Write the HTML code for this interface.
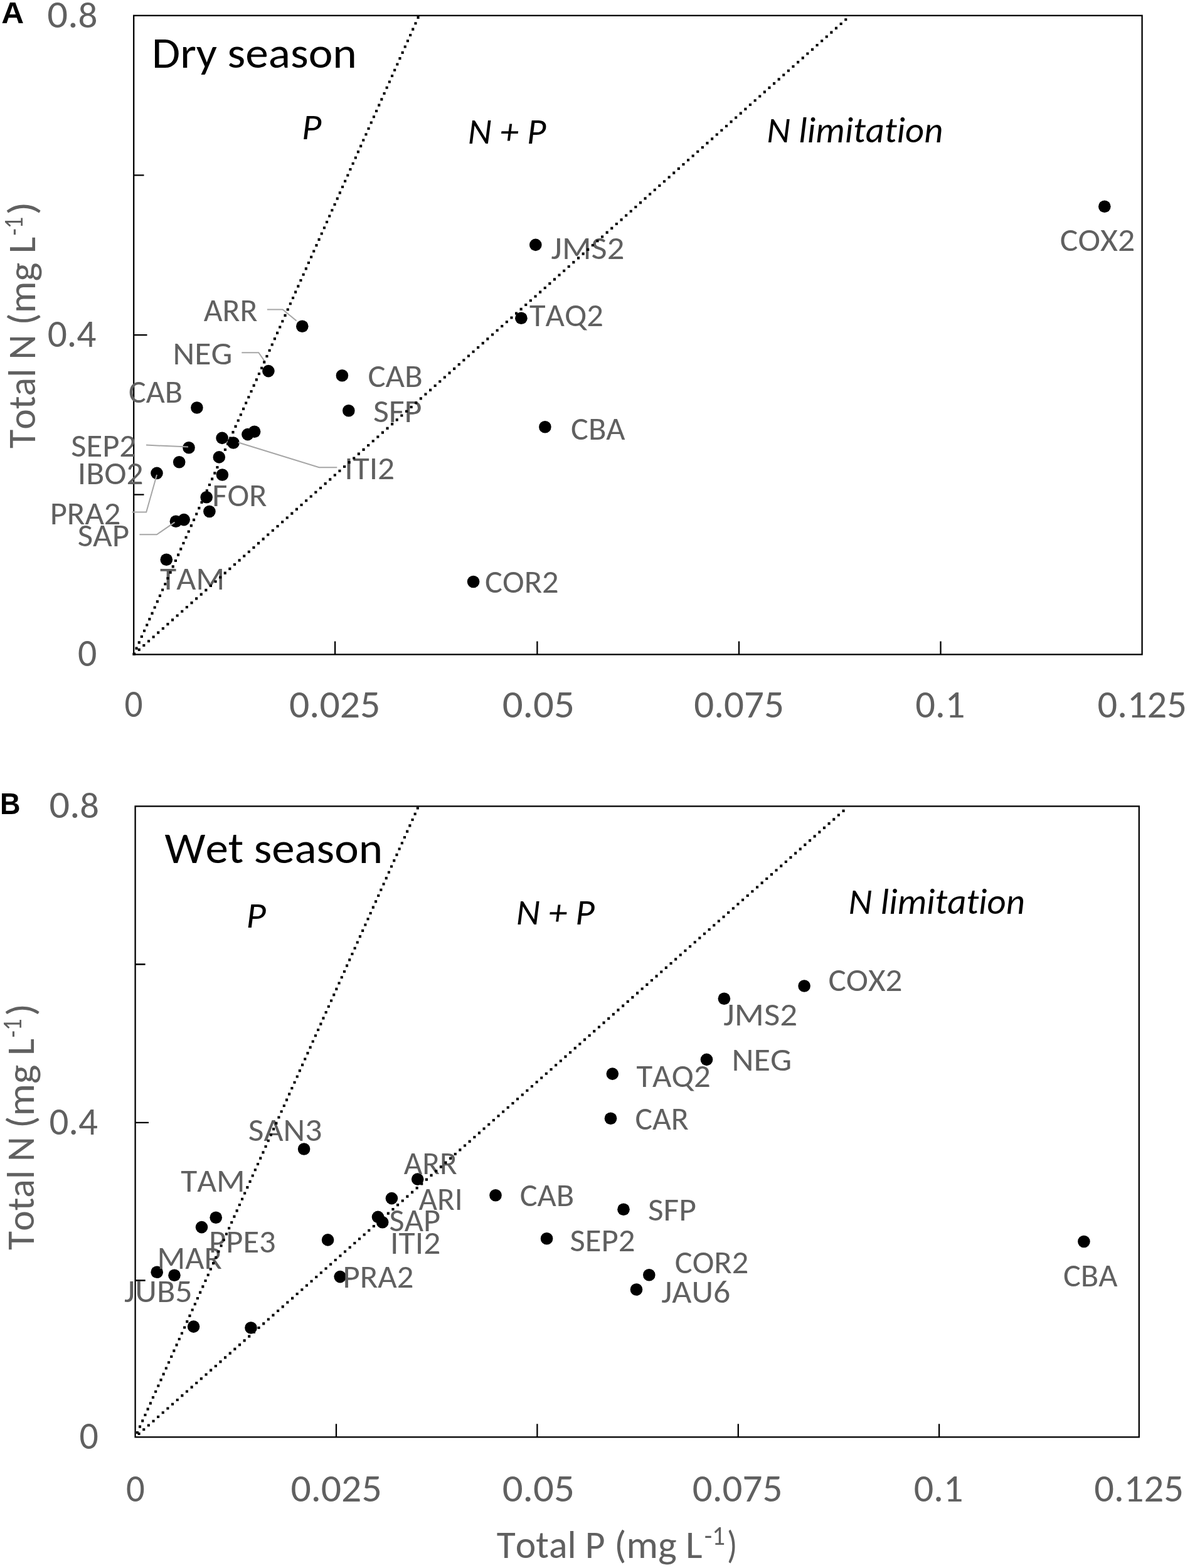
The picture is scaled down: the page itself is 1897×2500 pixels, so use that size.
<!DOCTYPE html>
<html><head><meta charset="utf-8"><title>Total N vs Total P</title><style>html,body{margin:0;padding:0;background:#fff}svg{display:block}text{font-kerning:none;font-variant-ligatures:none;font-feature-settings:"liga" 0,"clig" 0,"kern" 0}</style></head><body>
<svg width="1897" height="2500" viewBox="0 0 1897 2500">
<rect width="1897" height="2500" fill="#fff"/>
<rect x="213.2" y="24.8" width="1607.4" height="1018.7" stroke="#000" stroke-width="2.3" fill="none"/>
<rect x="215.6" y="1285.5" width="1600.2" height="1005.8" stroke="#000" stroke-width="2.3" fill="none"/>
<path d="M213.2 279.4H229.5 M213.2 534.2H234.5 M213.2 788.6H229.5 M534.1 1043.5V1022.5 M856.4 1043.5V1022.5 M1178.0 1043.5V1022.5 M1499.5 1043.5V1022.5 M215.6 1537.5H231.6 M215.6 1789.8H237.0 M215.6 2041.5H231.7 M536.0 2291.3V2270.3 M856.4 2291.3V2270.3 M1176.8 2291.3V2270.3 M1497.1 2291.3V2270.3" stroke="#000" stroke-width="2.3" fill="none"/>
<g fill="#000"><circle cx="1760.8" cy="329.3" r="9.8"/><circle cx="853.8" cy="390.4" r="9.8"/><circle cx="830.9" cy="507.3" r="9.8"/><circle cx="481.8" cy="520.3" r="9.8"/><circle cx="427.9" cy="591.6" r="9.8"/><circle cx="545.4" cy="598.8" r="9.8"/><circle cx="313.9" cy="650.0" r="9.8"/><circle cx="555.8" cy="654.8" r="9.8"/><circle cx="868.9" cy="680.7" r="9.8"/><circle cx="354.1" cy="698.4" r="9.8"/><circle cx="372.0" cy="706.0" r="9.8"/><circle cx="394.9" cy="692.6" r="9.8"/><circle cx="405.6" cy="688.2" r="9.8"/><circle cx="301.0" cy="713.7" r="9.8"/><circle cx="285.7" cy="736.8" r="9.8"/><circle cx="250.0" cy="754.4" r="9.8"/><circle cx="349.3" cy="728.9" r="9.8"/><circle cx="354.4" cy="757.0" r="9.8"/><circle cx="329.2" cy="792.7" r="9.8"/><circle cx="333.9" cy="815.5" r="9.8"/><circle cx="280.4" cy="831.2" r="9.8"/><circle cx="293.2" cy="828.6" r="9.8"/><circle cx="265.3" cy="892.2" r="9.8"/><circle cx="754.6" cy="927.5" r="9.8"/><circle cx="1282.1" cy="1572.0" r="9.8"/><circle cx="1154.4" cy="1592.3" r="9.8"/><circle cx="1126.5" cy="1689.4" r="9.8"/><circle cx="976.3" cy="1712.1" r="9.8"/><circle cx="973.5" cy="1783.3" r="9.8"/><circle cx="484.6" cy="1832.0" r="9.8"/><circle cx="665.7" cy="1880.1" r="9.8"/><circle cx="790.0" cy="1905.7" r="9.8"/><circle cx="624.4" cy="1910.6" r="9.8"/><circle cx="994.0" cy="1928.3" r="9.8"/><circle cx="344.2" cy="1941.2" r="9.8"/><circle cx="602.5" cy="1940.4" r="9.8"/><circle cx="609.7" cy="1948.7" r="9.8"/><circle cx="321.5" cy="1956.6" r="9.8"/><circle cx="522.6" cy="1976.9" r="9.8"/><circle cx="871.6" cy="1974.7" r="9.8"/><circle cx="1727.9" cy="1979.5" r="9.8"/><circle cx="250.2" cy="2028.3" r="9.8"/><circle cx="278.0" cy="2033.3" r="9.8"/><circle cx="1034.8" cy="2032.7" r="9.8"/><circle cx="542.2" cy="2035.6" r="9.8"/><circle cx="1014.5" cy="2056.0" r="9.8"/><circle cx="308.6" cy="2115.1" r="9.8"/><circle cx="400.0" cy="2117.0" r="9.8"/></g>
<polyline points="425.9,493.5 450.7,493.5 472.6,511.5" stroke="#a6a6a6" stroke-width="2" fill="none"/>
<polyline points="385.3,562.2 412.3,562.2 422.0,576.1" stroke="#a6a6a6" stroke-width="2" fill="none"/>
<polyline points="233.0,709.6 300.0,712.6" stroke="#a6a6a6" stroke-width="2" fill="none"/>
<polyline points="210.6,816.5 233.2,816.5 250.0,757.0" stroke="#a6a6a6" stroke-width="2" fill="none"/>
<polyline points="222.4,852.2 250.0,852.2 278.5,832.6" stroke="#a6a6a6" stroke-width="2" fill="none"/>
<polyline points="537.3,745.3 508.7,745.3 380.0,705.5" stroke="#a6a6a6" stroke-width="2" fill="none"/>
<text x="324.8" y="511.9" font-family="Carlito, 'Liberation Sans', sans-serif" font-size="51" fill="#606060" textLength="85.8" lengthAdjust="spacingAndGlyphs">ARR</text>
<text x="275.6" y="581.0" font-family="Carlito, 'Liberation Sans', sans-serif" font-size="51" fill="#606060" textLength="94.9" lengthAdjust="spacingAndGlyphs">NEG</text>
<text x="586.4" y="616.6" font-family="Carlito, 'Liberation Sans', sans-serif" font-size="51" fill="#606060" textLength="87.4" lengthAdjust="spacingAndGlyphs">CAB</text>
<text x="594.9" y="673.2" font-family="Carlito, 'Liberation Sans', sans-serif" font-size="51" fill="#606060" textLength="77.7" lengthAdjust="spacingAndGlyphs">SFP</text>
<text x="910.1" y="700.6" font-family="Carlito, 'Liberation Sans', sans-serif" font-size="51" fill="#606060" textLength="86.5" lengthAdjust="spacingAndGlyphs">CBA</text>
<text x="205.0" y="641.7" font-family="Carlito, 'Liberation Sans', sans-serif" font-size="51" fill="#606060" textLength="86.0" lengthAdjust="spacingAndGlyphs">CAB</text>
<text x="113.2" y="728.3" font-family="Carlito, 'Liberation Sans', sans-serif" font-size="51" fill="#606060" textLength="103.9" lengthAdjust="spacingAndGlyphs">SEP2</text>
<text x="123.8" y="771.6" font-family="Carlito, 'Liberation Sans', sans-serif" font-size="51" fill="#606060" textLength="104.8" lengthAdjust="spacingAndGlyphs">IBO2</text>
<text x="79.7" y="835.5" font-family="Carlito, 'Liberation Sans', sans-serif" font-size="51" fill="#606060" textLength="112.8" lengthAdjust="spacingAndGlyphs">PRA2</text>
<text x="123.7" y="870.9" font-family="Carlito, 'Liberation Sans', sans-serif" font-size="51" fill="#606060" textLength="82.4" lengthAdjust="spacingAndGlyphs">SAP</text>
<text x="338.3" y="807.4" font-family="Carlito, 'Liberation Sans', sans-serif" font-size="51" fill="#606060" textLength="87.3" lengthAdjust="spacingAndGlyphs">FOR</text>
<text x="549.2" y="764.4" font-family="Carlito, 'Liberation Sans', sans-serif" font-size="51" fill="#606060" textLength="80.0" lengthAdjust="spacingAndGlyphs">ITI2</text>
<text x="255.0" y="940.1" font-family="Carlito, 'Liberation Sans', sans-serif" font-size="51" fill="#606060" textLength="103.3" lengthAdjust="spacingAndGlyphs">TAM</text>
<text x="773.0" y="945.1" font-family="Carlito, 'Liberation Sans', sans-serif" font-size="51" fill="#606060" textLength="117.7" lengthAdjust="spacingAndGlyphs">COR2</text>
<text x="878.5" y="412.7" font-family="Carlito, 'Liberation Sans', sans-serif" font-size="51" fill="#606060" textLength="116.8" lengthAdjust="spacingAndGlyphs">JMS2</text>
<text x="843.9" y="519.8" font-family="Carlito, 'Liberation Sans', sans-serif" font-size="51" fill="#606060" textLength="118.0" lengthAdjust="spacingAndGlyphs">TAQ2</text>
<text x="1689.8" y="400.1" font-family="Carlito, 'Liberation Sans', sans-serif" font-size="51" fill="#606060" textLength="119.4" lengthAdjust="spacingAndGlyphs">COX2</text>
<text x="395.8" y="1819.3" font-family="Carlito, 'Liberation Sans', sans-serif" font-size="51" fill="#606060" textLength="117.7" lengthAdjust="spacingAndGlyphs">SAN3</text>
<text x="288.2" y="1900.4" font-family="Carlito, 'Liberation Sans', sans-serif" font-size="51" fill="#606060" textLength="102.5" lengthAdjust="spacingAndGlyphs">TAM</text>
<text x="333.1" y="1996.6" font-family="Carlito, 'Liberation Sans', sans-serif" font-size="51" fill="#606060" textLength="106.6" lengthAdjust="spacingAndGlyphs">PPE3</text>
<text x="250.6" y="2022.7" font-family="Carlito, 'Liberation Sans', sans-serif" font-size="51" fill="#606060" textLength="103.4" lengthAdjust="spacingAndGlyphs">MAR</text>
<text x="198.1" y="2075.8" font-family="Carlito, 'Liberation Sans', sans-serif" font-size="51" fill="#606060" textLength="108.6" lengthAdjust="spacingAndGlyphs">JUB5</text>
<text x="546.6" y="2052.8" font-family="Carlito, 'Liberation Sans', sans-serif" font-size="51" fill="#606060" textLength="112.9" lengthAdjust="spacingAndGlyphs">PRA2</text>
<text x="643.7" y="1872.0" font-family="Carlito, 'Liberation Sans', sans-serif" font-size="51" fill="#606060" textLength="84.9" lengthAdjust="spacingAndGlyphs">ARR</text>
<text x="667.6" y="1928.5" font-family="Carlito, 'Liberation Sans', sans-serif" font-size="51" fill="#606060" textLength="70.1" lengthAdjust="spacingAndGlyphs">ARI</text>
<text x="620.6" y="1963.0" font-family="Carlito, 'Liberation Sans', sans-serif" font-size="51" fill="#606060" textLength="81.5" lengthAdjust="spacingAndGlyphs">SAP</text>
<text x="622.1" y="1999.3" font-family="Carlito, 'Liberation Sans', sans-serif" font-size="51" fill="#606060" textLength="80.2" lengthAdjust="spacingAndGlyphs">ITI2</text>
<text x="828.7" y="1923.4" font-family="Carlito, 'Liberation Sans', sans-serif" font-size="51" fill="#606060" textLength="86.6" lengthAdjust="spacingAndGlyphs">CAB</text>
<text x="1032.9" y="1946.4" font-family="Carlito, 'Liberation Sans', sans-serif" font-size="51" fill="#606060" textLength="77.0" lengthAdjust="spacingAndGlyphs">SFP</text>
<text x="908.4" y="1994.7" font-family="Carlito, 'Liberation Sans', sans-serif" font-size="51" fill="#606060" textLength="104.0" lengthAdjust="spacingAndGlyphs">SEP2</text>
<text x="1075.8" y="2030.2" font-family="Carlito, 'Liberation Sans', sans-serif" font-size="51" fill="#606060" textLength="117.5" lengthAdjust="spacingAndGlyphs">COR2</text>
<text x="1054.2" y="2076.5" font-family="Carlito, 'Liberation Sans', sans-serif" font-size="51" fill="#606060" textLength="110.2" lengthAdjust="spacingAndGlyphs">JAU6</text>
<text x="1014.4" y="1732.8" font-family="Carlito, 'Liberation Sans', sans-serif" font-size="51" fill="#606060" textLength="118.4" lengthAdjust="spacingAndGlyphs">TAQ2</text>
<text x="1166.6" y="1707.1" font-family="Carlito, 'Liberation Sans', sans-serif" font-size="51" fill="#606060" textLength="95.7" lengthAdjust="spacingAndGlyphs">NEG</text>
<text x="1012.4" y="1801.0" font-family="Carlito, 'Liberation Sans', sans-serif" font-size="51" fill="#606060" textLength="85.4" lengthAdjust="spacingAndGlyphs">CAR</text>
<text x="1153.3" y="1635.2" font-family="Carlito, 'Liberation Sans', sans-serif" font-size="51" fill="#606060" textLength="117.9" lengthAdjust="spacingAndGlyphs">JMS2</text>
<text x="1320.5" y="1579.5" font-family="Carlito, 'Liberation Sans', sans-serif" font-size="51" fill="#606060" textLength="118.0" lengthAdjust="spacingAndGlyphs">COX2</text>
<text x="1695.0" y="2050.5" font-family="Carlito, 'Liberation Sans', sans-serif" font-size="51" fill="#606060" textLength="86.5" lengthAdjust="spacingAndGlyphs">CBA</text>
<text x="242.0" y="107.5" font-family="Carlito, 'Liberation Sans', sans-serif" font-size="70" fill="#000" textLength="326.9" lengthAdjust="spacingAndGlyphs">Dry season</text>
<text x="481.0" y="221.8" font-family="Carlito, 'Liberation Sans', sans-serif" font-size="58" font-style="italic" fill="#000" textLength="31.4" lengthAdjust="spacingAndGlyphs">P</text>
<text x="745.8" y="229.3" font-family="Carlito, 'Liberation Sans', sans-serif" font-size="58" font-style="italic" fill="#000" textLength="124.7" lengthAdjust="spacingAndGlyphs">N + P</text>
<text x="1222.3" y="226.9" font-family="Carlito, 'Liberation Sans', sans-serif" font-size="58" font-style="italic" fill="#000" textLength="281.0" lengthAdjust="spacingAndGlyphs">N limitation</text>
<text x="262.4" y="1375.6" font-family="Carlito, 'Liberation Sans', sans-serif" font-size="70" fill="#000" textLength="347.7" lengthAdjust="spacingAndGlyphs">Wet season</text>
<text x="392.5" y="1478.9" font-family="Carlito, 'Liberation Sans', sans-serif" font-size="58" font-style="italic" fill="#000" textLength="31.4" lengthAdjust="spacingAndGlyphs">P</text>
<text x="822.8" y="1473.8" font-family="Carlito, 'Liberation Sans', sans-serif" font-size="58" font-style="italic" fill="#000" textLength="125.2" lengthAdjust="spacingAndGlyphs">N + P</text>
<text x="1352.6" y="1457.0" font-family="Carlito, 'Liberation Sans', sans-serif" font-size="58" font-style="italic" fill="#000" textLength="281.3" lengthAdjust="spacingAndGlyphs">N limitation</text>
<text x="75.3" y="43.5" font-family="Carlito, 'Liberation Sans', sans-serif" font-size="62" fill="#606060" textLength="80.2" lengthAdjust="spacingAndGlyphs">0.<tspan font-size="58.5">8</tspan></text>
<text x="75.7" y="552.9" font-family="Carlito, 'Liberation Sans', sans-serif" font-size="62" fill="#606060" textLength="77.8" lengthAdjust="spacingAndGlyphs">0.4</text>
<text x="124.0" y="1062.1" font-family="Carlito, 'Liberation Sans', sans-serif" font-size="62" fill="#606060" textLength="30.4" lengthAdjust="spacingAndGlyphs">0</text>
<text x="78.6" y="1304.2" font-family="Carlito, 'Liberation Sans', sans-serif" font-size="62" fill="#606060" textLength="79.5" lengthAdjust="spacingAndGlyphs">0.<tspan font-size="58.5">8</tspan></text>
<text x="78.6" y="1808.9" font-family="Carlito, 'Liberation Sans', sans-serif" font-size="62" fill="#606060" textLength="77.3" lengthAdjust="spacingAndGlyphs">0.4</text>
<text x="126.5" y="2310.0" font-family="Carlito, 'Liberation Sans', sans-serif" font-size="62" fill="#606060" textLength="30.4" lengthAdjust="spacingAndGlyphs">0</text>
<text x="198.6" y="1143.3" font-family="Carlito, 'Liberation Sans', sans-serif" font-size="62" fill="#606060" textLength="29.1" lengthAdjust="spacingAndGlyphs">0</text>
<text x="461.0" y="1143.6" font-family="Carlito, 'Liberation Sans', sans-serif" font-size="62" fill="#606060" textLength="145.3" lengthAdjust="spacingAndGlyphs">0.025</text>
<text x="800.7" y="1143.6" font-family="Carlito, 'Liberation Sans', sans-serif" font-size="62" fill="#606060" textLength="115.2" lengthAdjust="spacingAndGlyphs">0.05</text>
<text x="1106.2" y="1143.6" font-family="Carlito, 'Liberation Sans', sans-serif" font-size="62" fill="#606060" textLength="143.7" lengthAdjust="spacingAndGlyphs">0.075</text>
<text x="1459.2" y="1143.6" font-family="Carlito, 'Liberation Sans', sans-serif" font-size="62" fill="#606060" textLength="79.2" lengthAdjust="spacingAndGlyphs">0.1</text>
<text x="1749.5" y="1144.0" font-family="Carlito, 'Liberation Sans', sans-serif" font-size="62" fill="#606060" textLength="142.3" lengthAdjust="spacingAndGlyphs">0.125</text>
<text x="200.9" y="2393.8" font-family="Carlito, 'Liberation Sans', sans-serif" font-size="62" fill="#606060" textLength="29.8" lengthAdjust="spacingAndGlyphs">0</text>
<text x="463.4" y="2393.8" font-family="Carlito, 'Liberation Sans', sans-serif" font-size="62" fill="#606060" textLength="145.3" lengthAdjust="spacingAndGlyphs">0.025</text>
<text x="800.7" y="2393.8" font-family="Carlito, 'Liberation Sans', sans-serif" font-size="62" fill="#606060" textLength="115.2" lengthAdjust="spacingAndGlyphs">0.05</text>
<text x="1103.7" y="2393.8" font-family="Carlito, 'Liberation Sans', sans-serif" font-size="62" fill="#606060" textLength="143.7" lengthAdjust="spacingAndGlyphs">0.075</text>
<text x="1456.8" y="2394.3" font-family="Carlito, 'Liberation Sans', sans-serif" font-size="62" fill="#606060" textLength="78.6" lengthAdjust="spacingAndGlyphs">0.1</text>
<text x="1744.3" y="2394.3" font-family="Carlito, 'Liberation Sans', sans-serif" font-size="62" fill="#606060" textLength="142.6" lengthAdjust="spacingAndGlyphs">0.125</text>
<text x="2.3" y="36.7" font-family="'Liberation Sans', Arial, sans-serif" font-size="48" font-weight="700" fill="#000" textLength="35.9" lengthAdjust="spacingAndGlyphs">A</text>
<text x="-0.1" y="1297.9" font-family="'Liberation Sans', Arial, sans-serif" font-size="48" font-weight="700" fill="#000" textLength="32.5" lengthAdjust="spacingAndGlyphs">B</text>
<text x="791.8" y="2483.9" font-family="Carlito, 'Liberation Sans', sans-serif" font-size="62" fill="#606060" textLength="172.7" lengthAdjust="spacingAndGlyphs">Total P</text>
<text x="979.3" y="2483.9" font-family="Carlito, 'Liberation Sans', sans-serif" font-size="62" fill="#606060" textLength="140.3" lengthAdjust="spacingAndGlyphs">(mg L</text>
<text x="1122.8" y="2462.9" font-family="Carlito, 'Liberation Sans', sans-serif" font-size="42.5" fill="#606060" textLength="33.2" lengthAdjust="spacingAndGlyphs">-1</text>
<text x="1159.0" y="2483.9" font-family="Carlito, 'Liberation Sans', sans-serif" font-size="62" fill="#606060" textLength="16.4" lengthAdjust="spacingAndGlyphs">)</text>
<text transform="translate(56.4 714.9) rotate(-90)" font-family="Carlito, 'Liberation Sans', sans-serif" font-size="62" fill="#606060" textLength="181.2" lengthAdjust="spacingAndGlyphs">Total N</text>
<text transform="translate(56.4 518.5) rotate(-90)" font-family="Carlito, 'Liberation Sans', sans-serif" font-size="62" fill="#606060" textLength="140.8" lengthAdjust="spacingAndGlyphs">(mg L</text>
<text transform="translate(36.2 375.6) rotate(-90)" font-family="Carlito, 'Liberation Sans', sans-serif" font-size="42.5" fill="#606060" textLength="29.8" lengthAdjust="spacingAndGlyphs">-1</text>
<text transform="translate(56.4 342.8) rotate(-90)" font-family="Carlito, 'Liberation Sans', sans-serif" font-size="62" fill="#606060" textLength="21.5" lengthAdjust="spacingAndGlyphs">)</text>
<text transform="translate(53.9 1992.9) rotate(-90)" font-family="Carlito, 'Liberation Sans', sans-serif" font-size="62" fill="#606060" textLength="180.7" lengthAdjust="spacingAndGlyphs">Total N</text>
<text transform="translate(53.9 1799.0) rotate(-90)" font-family="Carlito, 'Liberation Sans', sans-serif" font-size="62" fill="#606060" textLength="143.1" lengthAdjust="spacingAndGlyphs">(mg L</text>
<text transform="translate(33.9 1654.2) rotate(-90)" font-family="Carlito, 'Liberation Sans', sans-serif" font-size="42.5" fill="#606060" textLength="29.8" lengthAdjust="spacingAndGlyphs">-1</text>
<text transform="translate(53.9 1619.9) rotate(-90)" font-family="Carlito, 'Liberation Sans', sans-serif" font-size="62" fill="#606060" textLength="20.2" lengthAdjust="spacingAndGlyphs">)</text>
<path d="M211.4 1040.9h4.1v4.1h-4.1zM215.5 1031.6h4.1v4.1h-4.1zM219.7 1022.3h4.1v4.1h-4.1zM223.8 1013.0h4.1v4.1h-4.1zM228.0 1003.7h4.1v4.1h-4.1zM232.2 994.4h4.1v4.1h-4.1zM236.3 985.1h4.1v4.1h-4.1zM240.5 975.8h4.1v4.1h-4.1zM244.6 966.5h4.1v4.1h-4.1zM248.8 957.1h4.1v4.1h-4.1zM252.9 947.8h4.1v4.1h-4.1zM257.1 938.5h4.1v4.1h-4.1zM261.3 929.2h4.1v4.1h-4.1zM265.4 919.9h4.1v4.1h-4.1zM269.6 910.6h4.1v4.1h-4.1zM273.7 901.3h4.1v4.1h-4.1zM277.9 892.0h4.1v4.1h-4.1zM282.1 882.6h4.1v4.1h-4.1zM286.2 873.3h4.1v4.1h-4.1zM290.4 864.0h4.1v4.1h-4.1zM294.5 854.7h4.1v4.1h-4.1zM298.7 845.4h4.1v4.1h-4.1zM302.8 836.1h4.1v4.1h-4.1zM307.0 826.8h4.1v4.1h-4.1zM311.2 817.5h4.1v4.1h-4.1zM315.3 808.1h4.1v4.1h-4.1zM319.5 798.8h4.1v4.1h-4.1zM323.6 789.5h4.1v4.1h-4.1zM327.8 780.2h4.1v4.1h-4.1zM331.9 770.9h4.1v4.1h-4.1zM336.1 761.6h4.1v4.1h-4.1zM340.3 752.3h4.1v4.1h-4.1zM344.4 743.0h4.1v4.1h-4.1zM348.6 733.6h4.1v4.1h-4.1zM352.7 724.3h4.1v4.1h-4.1zM356.9 715.0h4.1v4.1h-4.1zM361.0 705.7h4.1v4.1h-4.1zM365.2 696.4h4.1v4.1h-4.1zM369.4 687.1h4.1v4.1h-4.1zM373.5 677.8h4.1v4.1h-4.1zM377.7 668.5h4.1v4.1h-4.1zM381.8 659.2h4.1v4.1h-4.1zM386.0 649.8h4.1v4.1h-4.1zM390.1 640.5h4.1v4.1h-4.1zM394.3 631.2h4.1v4.1h-4.1zM398.5 621.9h4.1v4.1h-4.1zM402.6 612.6h4.1v4.1h-4.1zM406.8 603.3h4.1v4.1h-4.1zM410.9 594.0h4.1v4.1h-4.1zM415.1 584.7h4.1v4.1h-4.1zM419.2 575.3h4.1v4.1h-4.1zM423.4 566.0h4.1v4.1h-4.1zM427.6 556.7h4.1v4.1h-4.1zM431.7 547.4h4.1v4.1h-4.1zM435.9 538.1h4.1v4.1h-4.1zM440.0 528.8h4.1v4.1h-4.1zM444.2 519.5h4.1v4.1h-4.1zM448.3 510.2h4.1v4.1h-4.1zM452.5 500.8h4.1v4.1h-4.1zM456.7 491.5h4.1v4.1h-4.1zM460.8 482.2h4.1v4.1h-4.1zM465.0 472.9h4.1v4.1h-4.1zM469.1 463.6h4.1v4.1h-4.1zM473.3 454.3h4.1v4.1h-4.1zM477.4 445.0h4.1v4.1h-4.1zM481.6 435.7h4.1v4.1h-4.1zM485.8 426.3h4.1v4.1h-4.1zM489.9 417.0h4.1v4.1h-4.1zM494.1 407.7h4.1v4.1h-4.1zM498.2 398.4h4.1v4.1h-4.1zM502.4 389.1h4.1v4.1h-4.1zM506.5 379.8h4.1v4.1h-4.1zM510.7 370.5h4.1v4.1h-4.1zM514.9 361.2h4.1v4.1h-4.1zM519.0 351.9h4.1v4.1h-4.1zM523.2 342.5h4.1v4.1h-4.1zM527.3 333.2h4.1v4.1h-4.1zM531.5 323.9h4.1v4.1h-4.1zM535.7 314.6h4.1v4.1h-4.1zM539.8 305.3h4.1v4.1h-4.1zM544.0 296.0h4.1v4.1h-4.1zM548.1 286.7h4.1v4.1h-4.1zM552.3 277.4h4.1v4.1h-4.1zM556.4 268.0h4.1v4.1h-4.1zM560.6 258.7h4.1v4.1h-4.1zM564.8 249.4h4.1v4.1h-4.1zM568.9 240.1h4.1v4.1h-4.1zM573.1 230.8h4.1v4.1h-4.1zM577.2 221.5h4.1v4.1h-4.1zM581.4 212.2h4.1v4.1h-4.1zM585.5 202.9h4.1v4.1h-4.1zM589.7 193.5h4.1v4.1h-4.1zM593.9 184.2h4.1v4.1h-4.1zM598.0 174.9h4.1v4.1h-4.1zM602.2 165.6h4.1v4.1h-4.1zM606.3 156.3h4.1v4.1h-4.1zM610.5 147.0h4.1v4.1h-4.1zM614.6 137.7h4.1v4.1h-4.1zM618.8 128.4h4.1v4.1h-4.1zM623.0 119.0h4.1v4.1h-4.1zM627.1 109.7h4.1v4.1h-4.1zM631.3 100.4h4.1v4.1h-4.1zM635.4 91.1h4.1v4.1h-4.1zM639.6 81.8h4.1v4.1h-4.1zM643.7 72.5h4.1v4.1h-4.1zM647.9 63.2h4.1v4.1h-4.1zM652.1 53.9h4.1v4.1h-4.1zM656.2 44.6h4.1v4.1h-4.1zM660.4 35.2h4.1v4.1h-4.1zM664.5 25.9h4.1v4.1h-4.1zM212.1 1040.6h4.1v4.1h-4.1zM219.7 1033.8h4.1v4.1h-4.1zM227.3 1027.0h4.1v4.1h-4.1zM235.0 1020.2h4.1v4.1h-4.1zM242.6 1013.4h4.1v4.1h-4.1zM250.2 1006.6h4.1v4.1h-4.1zM257.8 999.9h4.1v4.1h-4.1zM265.4 993.1h4.1v4.1h-4.1zM273.0 986.3h4.1v4.1h-4.1zM280.6 979.5h4.1v4.1h-4.1zM288.2 972.7h4.1v4.1h-4.1zM295.8 965.9h4.1v4.1h-4.1zM303.5 959.1h4.1v4.1h-4.1zM311.1 952.3h4.1v4.1h-4.1zM318.7 945.6h4.1v4.1h-4.1zM326.3 938.8h4.1v4.1h-4.1zM333.9 932.0h4.1v4.1h-4.1zM341.5 925.2h4.1v4.1h-4.1zM349.1 918.4h4.1v4.1h-4.1zM356.7 911.6h4.1v4.1h-4.1zM364.3 904.8h4.1v4.1h-4.1zM372.0 898.0h4.1v4.1h-4.1zM379.6 891.3h4.1v4.1h-4.1zM387.2 884.5h4.1v4.1h-4.1zM394.8 877.7h4.1v4.1h-4.1zM402.4 870.9h4.1v4.1h-4.1zM410.0 864.1h4.1v4.1h-4.1zM417.6 857.3h4.1v4.1h-4.1zM425.2 850.5h4.1v4.1h-4.1zM432.8 843.7h4.1v4.1h-4.1zM440.5 837.0h4.1v4.1h-4.1zM448.1 830.2h4.1v4.1h-4.1zM455.7 823.4h4.1v4.1h-4.1zM463.3 816.6h4.1v4.1h-4.1zM470.9 809.8h4.1v4.1h-4.1zM478.5 803.0h4.1v4.1h-4.1zM486.1 796.2h4.1v4.1h-4.1zM493.7 789.4h4.1v4.1h-4.1zM501.3 782.7h4.1v4.1h-4.1zM509.0 775.9h4.1v4.1h-4.1zM516.6 769.1h4.1v4.1h-4.1zM524.2 762.3h4.1v4.1h-4.1zM531.8 755.5h4.1v4.1h-4.1zM539.4 748.7h4.1v4.1h-4.1zM547.0 741.9h4.1v4.1h-4.1zM554.6 735.1h4.1v4.1h-4.1zM562.2 728.4h4.1v4.1h-4.1zM569.8 721.6h4.1v4.1h-4.1zM577.5 714.8h4.1v4.1h-4.1zM585.1 708.0h4.1v4.1h-4.1zM592.7 701.2h4.1v4.1h-4.1zM600.3 694.4h4.1v4.1h-4.1zM607.9 687.6h4.1v4.1h-4.1zM615.5 680.8h4.1v4.1h-4.1zM623.1 674.1h4.1v4.1h-4.1zM630.7 667.3h4.1v4.1h-4.1zM638.3 660.5h4.1v4.1h-4.1zM646.0 653.7h4.1v4.1h-4.1zM653.6 646.9h4.1v4.1h-4.1zM661.2 640.1h4.1v4.1h-4.1zM668.8 633.3h4.1v4.1h-4.1zM676.4 626.5h4.1v4.1h-4.1zM684.0 619.8h4.1v4.1h-4.1zM691.6 613.0h4.1v4.1h-4.1zM699.2 606.2h4.1v4.1h-4.1zM706.8 599.4h4.1v4.1h-4.1zM714.5 592.6h4.1v4.1h-4.1zM722.1 585.8h4.1v4.1h-4.1zM729.7 579.0h4.1v4.1h-4.1zM737.3 572.2h4.1v4.1h-4.1zM744.9 565.5h4.1v4.1h-4.1zM752.5 558.7h4.1v4.1h-4.1zM760.1 551.9h4.1v4.1h-4.1zM767.7 545.1h4.1v4.1h-4.1zM775.3 538.3h4.1v4.1h-4.1zM783.0 531.5h4.1v4.1h-4.1zM790.6 524.7h4.1v4.1h-4.1zM798.2 517.9h4.1v4.1h-4.1zM805.8 511.2h4.1v4.1h-4.1zM813.4 504.4h4.1v4.1h-4.1zM821.0 497.6h4.1v4.1h-4.1zM828.6 490.8h4.1v4.1h-4.1zM836.2 484.0h4.1v4.1h-4.1zM843.8 477.2h4.1v4.1h-4.1zM851.5 470.4h4.1v4.1h-4.1zM859.1 463.6h4.1v4.1h-4.1zM866.7 456.9h4.1v4.1h-4.1zM874.3 450.1h4.1v4.1h-4.1zM881.9 443.3h4.1v4.1h-4.1zM889.5 436.5h4.1v4.1h-4.1zM897.1 429.7h4.1v4.1h-4.1zM904.7 422.9h4.1v4.1h-4.1zM912.3 416.1h4.1v4.1h-4.1zM920.0 409.3h4.1v4.1h-4.1zM927.6 402.6h4.1v4.1h-4.1zM935.2 395.8h4.1v4.1h-4.1zM942.8 389.0h4.1v4.1h-4.1zM950.4 382.2h4.1v4.1h-4.1zM958.0 375.4h4.1v4.1h-4.1zM965.6 368.6h4.1v4.1h-4.1zM973.2 361.8h4.1v4.1h-4.1zM980.8 355.0h4.1v4.1h-4.1zM988.5 348.3h4.1v4.1h-4.1zM996.1 341.5h4.1v4.1h-4.1zM1003.7 334.7h4.1v4.1h-4.1zM1011.3 327.9h4.1v4.1h-4.1zM1018.9 321.1h4.1v4.1h-4.1zM1026.5 314.3h4.1v4.1h-4.1zM1034.1 307.5h4.1v4.1h-4.1zM1041.7 300.7h4.1v4.1h-4.1zM1049.3 294.0h4.1v4.1h-4.1zM1056.9 287.2h4.1v4.1h-4.1zM1064.6 280.4h4.1v4.1h-4.1zM1072.2 273.6h4.1v4.1h-4.1zM1079.8 266.8h4.1v4.1h-4.1zM1087.4 260.0h4.1v4.1h-4.1zM1095.0 253.2h4.1v4.1h-4.1zM1102.6 246.4h4.1v4.1h-4.1zM1110.2 239.7h4.1v4.1h-4.1zM1117.8 232.9h4.1v4.1h-4.1zM1125.4 226.1h4.1v4.1h-4.1zM1133.1 219.3h4.1v4.1h-4.1zM1140.7 212.5h4.1v4.1h-4.1zM1148.3 205.7h4.1v4.1h-4.1zM1155.9 198.9h4.1v4.1h-4.1zM1163.5 192.1h4.1v4.1h-4.1zM1171.1 185.4h4.1v4.1h-4.1zM1178.7 178.6h4.1v4.1h-4.1zM1186.3 171.8h4.1v4.1h-4.1zM1193.9 165.0h4.1v4.1h-4.1zM1201.6 158.2h4.1v4.1h-4.1zM1209.2 151.4h4.1v4.1h-4.1zM1216.8 144.6h4.1v4.1h-4.1zM1224.4 137.8h4.1v4.1h-4.1zM1232.0 131.1h4.1v4.1h-4.1zM1239.6 124.3h4.1v4.1h-4.1zM1247.2 117.5h4.1v4.1h-4.1zM1254.8 110.7h4.1v4.1h-4.1zM1262.4 103.9h4.1v4.1h-4.1zM1270.1 97.1h4.1v4.1h-4.1zM1277.7 90.3h4.1v4.1h-4.1zM1285.3 83.5h4.1v4.1h-4.1zM1292.9 76.8h4.1v4.1h-4.1zM1300.5 70.0h4.1v4.1h-4.1zM1308.1 63.2h4.1v4.1h-4.1zM1315.7 56.4h4.1v4.1h-4.1zM1323.3 49.6h4.1v4.1h-4.1zM1330.9 42.8h4.1v4.1h-4.1zM1338.6 36.0h4.1v4.1h-4.1zM1346.2 29.2h4.1v4.1h-4.1zM216.9 2281.9h4.1v4.1h-4.1zM221.0 2272.6h4.1v4.1h-4.1zM225.2 2263.3h4.1v4.1h-4.1zM229.4 2254.0h4.1v4.1h-4.1zM233.6 2244.6h4.1v4.1h-4.1zM237.8 2235.3h4.1v4.1h-4.1zM241.9 2226.0h4.1v4.1h-4.1zM246.1 2216.7h4.1v4.1h-4.1zM250.3 2207.4h4.1v4.1h-4.1zM254.5 2198.1h4.1v4.1h-4.1zM258.6 2188.8h4.1v4.1h-4.1zM262.8 2179.5h4.1v4.1h-4.1zM267.0 2170.2h4.1v4.1h-4.1zM271.2 2160.9h4.1v4.1h-4.1zM275.3 2151.6h4.1v4.1h-4.1zM279.5 2142.3h4.1v4.1h-4.1zM283.7 2133.0h4.1v4.1h-4.1zM287.9 2123.7h4.1v4.1h-4.1zM292.1 2114.4h4.1v4.1h-4.1zM296.2 2105.1h4.1v4.1h-4.1zM300.4 2095.8h4.1v4.1h-4.1zM304.6 2086.5h4.1v4.1h-4.1zM308.8 2077.2h4.1v4.1h-4.1zM312.9 2067.9h4.1v4.1h-4.1zM317.1 2058.6h4.1v4.1h-4.1zM321.3 2049.3h4.1v4.1h-4.1zM325.5 2040.0h4.1v4.1h-4.1zM329.7 2030.7h4.1v4.1h-4.1zM333.8 2021.4h4.1v4.1h-4.1zM338.0 2012.1h4.1v4.1h-4.1zM342.2 2002.8h4.1v4.1h-4.1zM346.4 1993.5h4.1v4.1h-4.1zM350.5 1984.2h4.1v4.1h-4.1zM354.7 1974.9h4.1v4.1h-4.1zM358.9 1965.5h4.1v4.1h-4.1zM363.1 1956.2h4.1v4.1h-4.1zM367.2 1946.9h4.1v4.1h-4.1zM371.4 1937.6h4.1v4.1h-4.1zM375.6 1928.3h4.1v4.1h-4.1zM379.8 1919.0h4.1v4.1h-4.1zM384.0 1909.7h4.1v4.1h-4.1zM388.1 1900.4h4.1v4.1h-4.1zM392.3 1891.1h4.1v4.1h-4.1zM396.5 1881.8h4.1v4.1h-4.1zM400.7 1872.5h4.1v4.1h-4.1zM404.8 1863.2h4.1v4.1h-4.1zM409.0 1853.9h4.1v4.1h-4.1zM413.2 1844.6h4.1v4.1h-4.1zM417.4 1835.3h4.1v4.1h-4.1zM421.5 1826.0h4.1v4.1h-4.1zM425.7 1816.7h4.1v4.1h-4.1zM429.9 1807.4h4.1v4.1h-4.1zM434.1 1798.1h4.1v4.1h-4.1zM438.3 1788.8h4.1v4.1h-4.1zM442.4 1779.5h4.1v4.1h-4.1zM446.6 1770.2h4.1v4.1h-4.1zM450.8 1760.9h4.1v4.1h-4.1zM455.0 1751.6h4.1v4.1h-4.1zM459.1 1742.3h4.1v4.1h-4.1zM463.3 1733.0h4.1v4.1h-4.1zM467.5 1723.7h4.1v4.1h-4.1zM471.7 1714.4h4.1v4.1h-4.1zM475.8 1705.1h4.1v4.1h-4.1zM480.0 1695.8h4.1v4.1h-4.1zM484.2 1686.5h4.1v4.1h-4.1zM488.4 1677.1h4.1v4.1h-4.1zM492.6 1667.8h4.1v4.1h-4.1zM496.7 1658.5h4.1v4.1h-4.1zM500.9 1649.2h4.1v4.1h-4.1zM505.1 1639.9h4.1v4.1h-4.1zM509.3 1630.6h4.1v4.1h-4.1zM513.4 1621.3h4.1v4.1h-4.1zM517.6 1612.0h4.1v4.1h-4.1zM521.8 1602.7h4.1v4.1h-4.1zM526.0 1593.4h4.1v4.1h-4.1zM530.2 1584.1h4.1v4.1h-4.1zM534.3 1574.8h4.1v4.1h-4.1zM538.5 1565.5h4.1v4.1h-4.1zM542.7 1556.2h4.1v4.1h-4.1zM546.9 1546.9h4.1v4.1h-4.1zM551.0 1537.6h4.1v4.1h-4.1zM555.2 1528.3h4.1v4.1h-4.1zM559.4 1519.0h4.1v4.1h-4.1zM563.6 1509.7h4.1v4.1h-4.1zM567.7 1500.4h4.1v4.1h-4.1zM571.9 1491.1h4.1v4.1h-4.1zM576.1 1481.8h4.1v4.1h-4.1zM580.3 1472.5h4.1v4.1h-4.1zM584.5 1463.2h4.1v4.1h-4.1zM588.6 1453.9h4.1v4.1h-4.1zM592.8 1444.6h4.1v4.1h-4.1zM597.0 1435.3h4.1v4.1h-4.1zM601.2 1426.0h4.1v4.1h-4.1zM605.3 1416.7h4.1v4.1h-4.1zM609.5 1407.4h4.1v4.1h-4.1zM613.7 1398.1h4.1v4.1h-4.1zM617.9 1388.7h4.1v4.1h-4.1zM622.0 1379.4h4.1v4.1h-4.1zM626.2 1370.1h4.1v4.1h-4.1zM630.4 1360.8h4.1v4.1h-4.1zM634.6 1351.5h4.1v4.1h-4.1zM638.8 1342.2h4.1v4.1h-4.1zM642.9 1332.9h4.1v4.1h-4.1zM647.1 1323.6h4.1v4.1h-4.1zM651.3 1314.3h4.1v4.1h-4.1zM655.5 1305.0h4.1v4.1h-4.1zM659.6 1295.7h4.1v4.1h-4.1zM663.8 1286.4h4.1v4.1h-4.1zM219.5 2283.9h4.1v4.1h-4.1zM227.2 2277.2h4.1v4.1h-4.1zM234.8 2270.4h4.1v4.1h-4.1zM242.5 2263.7h4.1v4.1h-4.1zM250.1 2256.9h4.1v4.1h-4.1zM257.7 2250.2h4.1v4.1h-4.1zM265.4 2243.4h4.1v4.1h-4.1zM273.0 2236.7h4.1v4.1h-4.1zM280.7 2229.9h4.1v4.1h-4.1zM288.3 2223.1h4.1v4.1h-4.1zM295.9 2216.4h4.1v4.1h-4.1zM303.6 2209.6h4.1v4.1h-4.1zM311.2 2202.9h4.1v4.1h-4.1zM318.8 2196.1h4.1v4.1h-4.1zM326.5 2189.4h4.1v4.1h-4.1zM334.1 2182.6h4.1v4.1h-4.1zM341.8 2175.9h4.1v4.1h-4.1zM349.4 2169.1h4.1v4.1h-4.1zM357.0 2162.3h4.1v4.1h-4.1zM364.7 2155.6h4.1v4.1h-4.1zM372.3 2148.8h4.1v4.1h-4.1zM380.0 2142.1h4.1v4.1h-4.1zM387.6 2135.3h4.1v4.1h-4.1zM395.2 2128.6h4.1v4.1h-4.1zM402.9 2121.8h4.1v4.1h-4.1zM410.5 2115.0h4.1v4.1h-4.1zM418.2 2108.3h4.1v4.1h-4.1zM425.8 2101.5h4.1v4.1h-4.1zM433.4 2094.8h4.1v4.1h-4.1zM441.1 2088.0h4.1v4.1h-4.1zM448.7 2081.3h4.1v4.1h-4.1zM456.3 2074.5h4.1v4.1h-4.1zM464.0 2067.8h4.1v4.1h-4.1zM471.6 2061.0h4.1v4.1h-4.1zM479.3 2054.2h4.1v4.1h-4.1zM486.9 2047.5h4.1v4.1h-4.1zM494.5 2040.7h4.1v4.1h-4.1zM502.2 2034.0h4.1v4.1h-4.1zM509.8 2027.2h4.1v4.1h-4.1zM517.5 2020.5h4.1v4.1h-4.1zM525.1 2013.7h4.1v4.1h-4.1zM532.7 2006.9h4.1v4.1h-4.1zM540.4 2000.2h4.1v4.1h-4.1zM548.0 1993.4h4.1v4.1h-4.1zM555.7 1986.7h4.1v4.1h-4.1zM563.3 1979.9h4.1v4.1h-4.1zM570.9 1973.2h4.1v4.1h-4.1zM578.6 1966.4h4.1v4.1h-4.1zM586.2 1959.7h4.1v4.1h-4.1zM593.8 1952.9h4.1v4.1h-4.1zM601.5 1946.1h4.1v4.1h-4.1zM609.1 1939.4h4.1v4.1h-4.1zM616.8 1932.6h4.1v4.1h-4.1zM624.4 1925.9h4.1v4.1h-4.1zM632.0 1919.1h4.1v4.1h-4.1zM639.7 1912.4h4.1v4.1h-4.1zM647.3 1905.6h4.1v4.1h-4.1zM655.0 1898.8h4.1v4.1h-4.1zM662.6 1892.1h4.1v4.1h-4.1zM670.2 1885.3h4.1v4.1h-4.1zM677.9 1878.6h4.1v4.1h-4.1zM685.5 1871.8h4.1v4.1h-4.1zM693.2 1865.1h4.1v4.1h-4.1zM700.8 1858.3h4.1v4.1h-4.1zM708.4 1851.6h4.1v4.1h-4.1zM716.1 1844.8h4.1v4.1h-4.1zM723.7 1838.0h4.1v4.1h-4.1zM731.3 1831.3h4.1v4.1h-4.1zM739.0 1824.5h4.1v4.1h-4.1zM746.6 1817.8h4.1v4.1h-4.1zM754.3 1811.0h4.1v4.1h-4.1zM761.9 1804.3h4.1v4.1h-4.1zM769.5 1797.5h4.1v4.1h-4.1zM777.2 1790.7h4.1v4.1h-4.1zM784.8 1784.0h4.1v4.1h-4.1zM792.5 1777.2h4.1v4.1h-4.1zM800.1 1770.5h4.1v4.1h-4.1zM807.7 1763.7h4.1v4.1h-4.1zM815.4 1757.0h4.1v4.1h-4.1zM823.0 1750.2h4.1v4.1h-4.1zM830.7 1743.5h4.1v4.1h-4.1zM838.3 1736.7h4.1v4.1h-4.1zM845.9 1729.9h4.1v4.1h-4.1zM853.6 1723.2h4.1v4.1h-4.1zM861.2 1716.4h4.1v4.1h-4.1zM868.8 1709.7h4.1v4.1h-4.1zM876.5 1702.9h4.1v4.1h-4.1zM884.1 1696.2h4.1v4.1h-4.1zM891.8 1689.4h4.1v4.1h-4.1zM899.4 1682.6h4.1v4.1h-4.1zM907.0 1675.9h4.1v4.1h-4.1zM914.7 1669.1h4.1v4.1h-4.1zM922.3 1662.4h4.1v4.1h-4.1zM930.0 1655.6h4.1v4.1h-4.1zM937.6 1648.9h4.1v4.1h-4.1zM945.2 1642.1h4.1v4.1h-4.1zM952.9 1635.4h4.1v4.1h-4.1zM960.5 1628.6h4.1v4.1h-4.1zM968.2 1621.8h4.1v4.1h-4.1zM975.8 1615.1h4.1v4.1h-4.1zM983.4 1608.3h4.1v4.1h-4.1zM991.1 1601.6h4.1v4.1h-4.1zM998.7 1594.8h4.1v4.1h-4.1zM1006.3 1588.1h4.1v4.1h-4.1zM1014.0 1581.3h4.1v4.1h-4.1zM1021.6 1574.5h4.1v4.1h-4.1zM1029.3 1567.8h4.1v4.1h-4.1zM1036.9 1561.0h4.1v4.1h-4.1zM1044.5 1554.3h4.1v4.1h-4.1zM1052.2 1547.5h4.1v4.1h-4.1zM1059.8 1540.8h4.1v4.1h-4.1zM1067.5 1534.0h4.1v4.1h-4.1zM1075.1 1527.3h4.1v4.1h-4.1zM1082.7 1520.5h4.1v4.1h-4.1zM1090.4 1513.7h4.1v4.1h-4.1zM1098.0 1507.0h4.1v4.1h-4.1zM1105.7 1500.2h4.1v4.1h-4.1zM1113.3 1493.5h4.1v4.1h-4.1zM1120.9 1486.7h4.1v4.1h-4.1zM1128.6 1480.0h4.1v4.1h-4.1zM1136.2 1473.2h4.1v4.1h-4.1zM1143.8 1466.4h4.1v4.1h-4.1zM1151.5 1459.7h4.1v4.1h-4.1zM1159.1 1452.9h4.1v4.1h-4.1zM1166.8 1446.2h4.1v4.1h-4.1zM1174.4 1439.4h4.1v4.1h-4.1zM1182.0 1432.7h4.1v4.1h-4.1zM1189.7 1425.9h4.1v4.1h-4.1zM1197.3 1419.2h4.1v4.1h-4.1zM1205.0 1412.4h4.1v4.1h-4.1zM1212.6 1405.6h4.1v4.1h-4.1zM1220.2 1398.9h4.1v4.1h-4.1zM1227.9 1392.1h4.1v4.1h-4.1zM1235.5 1385.4h4.1v4.1h-4.1zM1243.2 1378.6h4.1v4.1h-4.1zM1250.8 1371.9h4.1v4.1h-4.1zM1258.4 1365.1h4.1v4.1h-4.1zM1266.1 1358.3h4.1v4.1h-4.1zM1273.7 1351.6h4.1v4.1h-4.1zM1281.3 1344.8h4.1v4.1h-4.1zM1289.0 1338.1h4.1v4.1h-4.1zM1296.6 1331.3h4.1v4.1h-4.1zM1304.3 1324.6h4.1v4.1h-4.1zM1311.9 1317.8h4.1v4.1h-4.1zM1319.5 1311.1h4.1v4.1h-4.1zM1327.2 1304.3h4.1v4.1h-4.1zM1334.8 1297.5h4.1v4.1h-4.1zM1342.5 1290.8h4.1v4.1h-4.1z" fill="#000"/>
</svg>
<script>
(function(){try{var c=document.createElement('canvas').getContext('2d');var s='abcdefgiIlmW0.125';c.font='50px monospace';var a=c.measureText(s).width;c.font='50px Carlito, monospace';var b=c.measureText(s).width;if(Math.abs(a-b)<0.01){var els=document.querySelectorAll('text, tspan');for(var i=0;i<els.length;i++){var e=els[i];var f=e.getAttribute('font-family');if(e.tagName.toLowerCase()==='tspan'){var p=e.parentNode;f=p.getAttribute('font-family');}if(f&&f.indexOf('Carlito')===0&&e.getAttribute('font-size')){e.setAttribute('font-size',(parseFloat(e.getAttribute('font-size'))*0.895).toFixed(1));}}}}catch(err){}})();
</script>
</body></html>
